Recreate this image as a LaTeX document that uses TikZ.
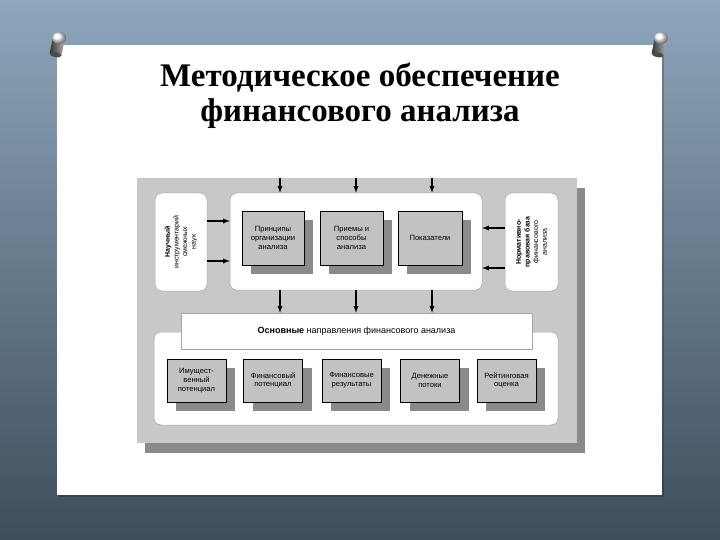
\documentclass[tikz,border=0pt]{standalone}
\usepackage{fontspec}
\setmainfont{Liberation Serif}
\setsansfont{Liberation Sans}
\usetikzlibrary{shadows}

\definecolor{bgtop}{HTML}{8EA6BC}
\definecolor{bgmid}{HTML}{7189A0}
\definecolor{bgbot}{HTML}{3E4E5C}
\definecolor{panelgray}{HTML}{C8C8C8}
\definecolor{itemgray}{HTML}{C2C2C2}
\definecolor{shadegray}{HTML}{8A8A8A}

\tikzset{
  panel/.style={rectangle,fill=panelgray,inner sep=0pt,
    drop shadow={shadow xshift=8pt,shadow yshift=-10pt,fill=shadegray,opacity=1}},
  rbox/.style={rectangle,rounded corners=7pt,fill=white,draw=gray!70,line width=.5pt,inner sep=0pt},
  item/.style={rectangle,fill=itemgray,draw=black,line width=.6pt,inner sep=0pt,
    align=center,font=\sffamily\fontsize{7.6}{8.8}\selectfont,
    drop shadow={shadow xshift=9pt,shadow yshift=-9pt,fill=shadegray,opacity=1}},
  side/.style={rotate=90,align=center,font=\sffamily\fontsize{7}{8.6}\selectfont},
  arr/.style={->,>=latex,line width=1.3pt}
}

\begin{document}
\begin{tikzpicture}[x=1pt,y=-1pt]
        % background
        \useasboundingbox (0,0) rectangle (720,540);
        \shade[top color=bgtop,middle color=bgmid,bottom color=bgbot] (0,0) rectangle (720,540);
        \fill[black,opacity=.2] (59,47) rectangle (664,497);
        \fill[white] (57,45) rectangle (662,495);
        % pins
        \foreach \px in {59,661} {
            \shade[left color=black!80,right color=gray!60,rotate around={-12:(\px,38)}]
                (\px-6,38) rectangle (\px+6,55);
            \fill[black!70,rotate around={-12:(\px,38)}] (\px,55) ellipse (6 and 2.5);
            \shade[ball color=white] (\px,38) ellipse (7 and 6);
        }
        % title
        \node (title) at (360,96) [align=center,font=\bfseries\fontsize{33}{35}\selectfont]
            {Методическое обеспечение\\финансового анализа};
        % panel
        \node (panel) at (357,310.5) [panel,minimum width=440pt,minimum height=265pt] {};
        % upper part
        \node (nauch) at (181,242) [rbox,minimum width=52pt,minimum height=98pt] {};
        \node (metod) at (356,241.5) [rbox,minimum width=252pt,minimum height=97pt] {};
        \node (norm) at (531.5,242) [rbox,minimum width=53pt,minimum height=98pt] {};
        \node (nauchtxt) at (nauch) [side] {\textbf{Научный}\\инструментарий\\смежных\\наук};
        \node (normtxt) at (norm) [side] {\textbf{Нормативно-}\\\textbf{правовая база}\\финансового\\анализа};
        \node (princ) at (273,238) [item,minimum width=62pt,minimum height=54pt] {Принципы\\организации\\анализа};
        \node (priem) at (351.5,238) [item,minimum width=63pt,minimum height=54pt] {Приемы и\\способы\\анализа};
        \node (pokaz) at (430,238) [item,minimum width=64pt,minimum height=54pt] {Показатели};
        % lower part
        \node (bottom) at (356,378.5) [rbox,minimum width=404pt,minimum height=93pt] {};
        \node (napr) at (356.5,331) [rectangle,fill=white,draw=gray!70,line width=.5pt,
            minimum width=351pt,minimum height=36pt,font=\sffamily\fontsize{9}{10}\selectfont]
            {\textbf{Основные} направления финансового анализа};
        \foreach \x/\t [count=\i] in {196.5/{Имущест-\\венный\\потенциал},
                                   273/{Финансовый\\потенциал},
                                   351.5/{Финансовые\\результаты},
                                   430/{Денежные\\потоки},
                                   506.5/{Рейтинговая\\оценка}} {
            \node (b\i) at (\x,380.5) [item,minimum width=59pt,minimum height=43pt] {\t};
        }
        % arrows
        \foreach \x [count=\i] in {280,356,432} {
            \coordinate (t\i) at (\x,178);
            \draw [arr] (t\i) -- (t\i |- metod.north);
            \draw [arr] (t\i |- metod.south) -- (t\i |- napr.north);
        }
        \coordinate (l1) at (nauch.east |- 0,221);
        \coordinate (l2) at (nauch.east |- 0,261);
        \coordinate (r1) at (norm.west |- 0,228);
        \coordinate (r2) at (norm.west |- 0,268);
        \draw [arr] (l1) -- (l1 -| metod.west);
        \draw [arr] (l2) -- (l2 -| metod.west);
        \draw [arr] (r1) -- (r1 -| metod.east);
        \draw [arr] (r2) -- (r2 -| metod.east);
    \end{tikzpicture}
\end{document}
